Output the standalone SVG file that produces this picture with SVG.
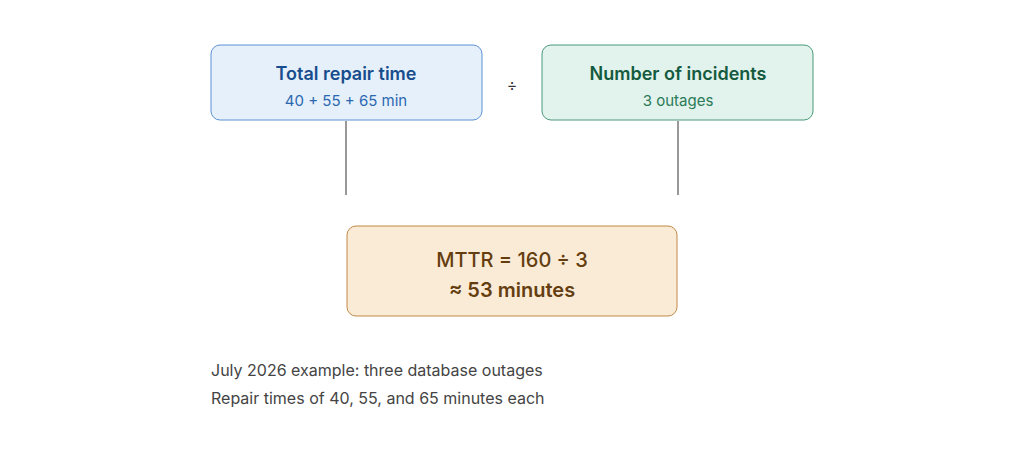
<svg xmlns="http://www.w3.org/2000/svg" width="1024" height="452" viewBox="0 0 1024 452">
<style>
text{font-family:Inter,"Noto Sans",sans-serif;text-anchor:middle}
.t{font-size:18px;font-weight:600}
.s{font-size:15px}
.c{stroke:#999;stroke-width:2;fill:none}
.n{font-size:16px;fill:#444;text-anchor:start}
</style>
<rect width="1024" height="452" fill="#fff"/>
<g id="connectors">
<line class="c" x1="346" y1="121" x2="346" y2="195"/>
<line class="c" x1="678" y1="121" x2="678" y2="195"/>
</g>
<g id="total">
<rect x="211" y="45" width="271" height="75" rx="9" fill="#e5f0fb" stroke="#5b92d4"/>
<text class="t" x="346" y="80" fill="#174d8c">Total repair time</text>
<text class="s" x="346" y="106" fill="#2b68b0">40 + 55 + 65 min</text>
</g>
<g id="div"><text x="512" y="91" font-size="16" fill="#333">÷</text></g>
<g id="incidents">
<rect x="542" y="45" width="271" height="75" rx="9" fill="#e1f3ec" stroke="#4a9a7a"/>
<text class="t" x="678" y="80" fill="#145a3e">Number of incidents</text>
<text class="s" x="678" y="106" fill="#2a7a58">3 outages</text>
</g>
<g id="mttr">
<rect x="347" y="226" width="330" height="90" rx="9" fill="#faebd7" stroke="#c08a45"/>
<text x="512" y="267" font-size="20" font-weight="500" fill="#653e10">MTTR = 160 ÷ 3</text>
<text x="512" y="297" font-size="20" font-weight="600" fill="#653e10">≈ 53 minutes</text>
</g>
<g id="notes">
<text class="n" x="211" y="376">July 2026 example: three database outages</text>
<text class="n" x="211" y="404">Repair times of 40, 55, and 65 minutes each</text>
</g>
</svg>
